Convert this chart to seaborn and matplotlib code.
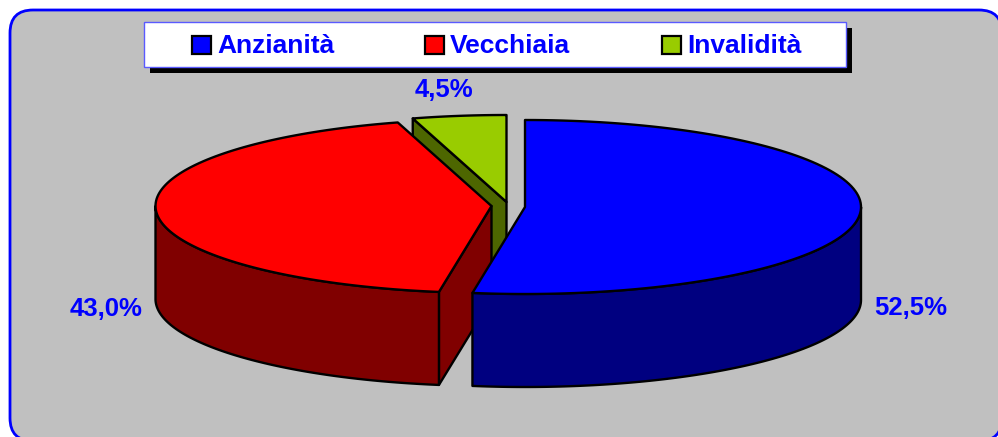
import numpy as np
import seaborn as sns
import matplotlib
matplotlib.use("Agg")
import matplotlib.pyplot as plt
from matplotlib.patches import FancyBboxPatch, Rectangle, Polygon

categories = ["Anzianità", "Vecchiaia", "Invalidità"]
shares = [52.5, 43.0, 4.5]
labels = ["52,5%", "43,0%", "4,5%"]

top_colors = ["#0000ff", "#ff0000", "#99cc00"]
side_colors = ["#000080", "#800000", "#4d6600"]
text_blue = "#0000ff"
gray = "#c0c0c0"

# pie geometry in pixels
rx, ry, depth = 336, 87, 93
centers = [(525, 207), (491.5, 206), (506.5, 202)]
label_pos = [(911, 308), (106, 309), (444, 90)]

# legend layout
swatch_x = [192, 425, 662]
text_x = [217, 450, 687]

sns.set_style("white")
plt.rcParams["font.family"] = ["Liberation Sans", "DejaVu Sans"]

fig = plt.figure(figsize=(9.98, 4.37), dpi=100)
ax = fig.add_axes([0, 0, 1, 1])
ax.set_xlim(0, 998)
ax.set_ylim(437, 0)
ax.axis("off")

# panel
ax.add_patch(FancyBboxPatch((33, 33), 946, 385, boxstyle="round,pad=23,rounding_size=23",
                            facecolor=gray, edgecolor="#0000ff", linewidth=2, zorder=1))

# legend box + shadow
ax.add_patch(Rectangle((150, 28), 702, 45, facecolor="black", edgecolor="none", zorder=2))
ax.add_patch(Rectangle((144.5, 22), 702, 45, facecolor="white", edgecolor="#5a5aff", linewidth=1, zorder=3))
for i, cat in enumerate(categories):
    ax.add_patch(Rectangle((swatch_x[i], 36), 19, 18, facecolor=top_colors[i],
                           edgecolor="black", linewidth=1.6, zorder=4))
    ax.text(text_x[i], 46, cat, color=text_blue, fontsize=19, fontweight="bold",
            ha="left", va="center", zorder=4)


def pts(c, a, dy=0):
    # a = angle clockwise from 12 o'clock, degrees
    a = np.radians(a)
    return np.column_stack([c[0] + rx * np.sin(a), c[1] - ry * np.cos(a) + dy])


# slice angles from the shares
stops = np.cumsum([0] + shares) * 3.6
line = dict(edgecolor="black", linewidth=1.7, joinstyle="round")

# green, then red, then blue so the nearer slices cover the others
for i in [2, 1, 0]:
    c = centers[i]
    a0, a1 = stops[i], stops[i + 1]
    arc = np.linspace(a0, a1, 120)
    z = 5 + (2 - i)

    if i in (1, 2):
        # cut face that shows on this slice
        p = pts(c, np.array([a0]))[0]
        face = np.array([p, c, [c[0], c[1] + depth], [p[0], p[1] + depth]])
        ax.add_patch(Polygon(face, facecolor=side_colors[i], zorder=z, **line))

    # rim, front half only
    lo, hi = max(a0, 90), min(a1, 270)
    if hi > lo:
        front = np.linspace(lo, hi, 120)
        rim = np.vstack([pts(c, front), pts(c, front[::-1], depth)])
        ax.add_patch(Polygon(rim, facecolor=side_colors[i], zorder=z, **line))

    top = np.vstack([[c], pts(c, arc)])
    ax.add_patch(Polygon(top, facecolor=top_colors[i], zorder=z, **line))

for i, lab in enumerate(labels):
    ax.text(label_pos[i][0], label_pos[i][1], lab, color=text_blue, fontsize=18.5,
            fontweight="bold", ha="center", va="center", zorder=9)

fig.savefig("out.png", dpi=100)
